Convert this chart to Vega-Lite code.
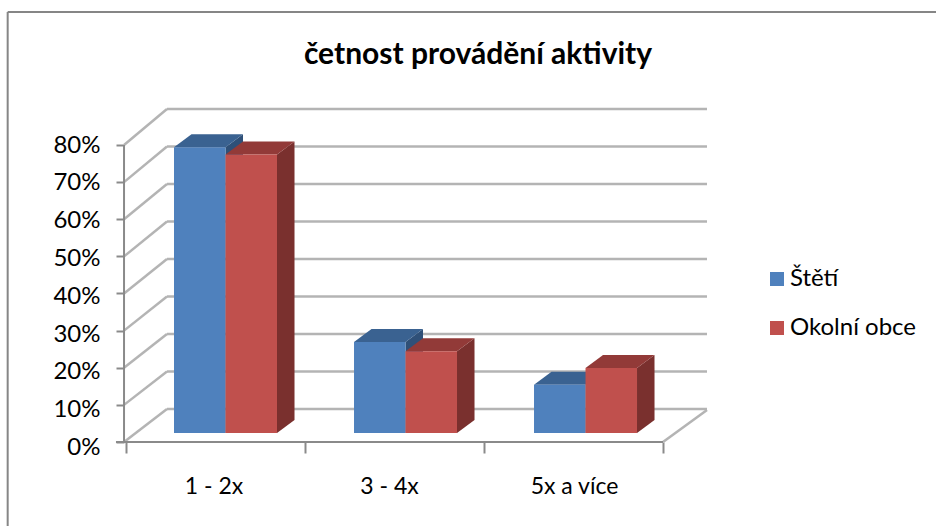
{
"$schema":"https://vega.github.io/schema/vega-lite/v6.json",
"width":936,"height":526,"autosize":{"type":"none"},"padding":0,"background":"white",
"config":{"view":{"stroke":null},"font":"Lato"},
"title":{"text":"četnost provádění aktivity","font":"Lato","fontSize":30,"fontWeight":"bold","color":"#000000","anchor":"middle","dx":10,"orient":"top","offset":-94,"baseline":"alphabetic"},
"resolve":{"axis":{"x":"independent","y":"independent"}},
"datasets":{
"levels":[{"pct":0},{"pct":10},{"pct":20},{"pct":30},{"pct":40},{"pct":50},{"pct":60},{"pct":70},{"pct":80}],
"bars":[
{"cat":"1 - 2x","series":"Štětí","value":77},
{"cat":"1 - 2x","series":"Okolní obce","value":75},
{"cat":"3 - 4x","series":"Štětí","value":24.5},
{"cat":"3 - 4x","series":"Okolní obce","value":22},
{"cat":"5x a více","series":"Štětí","value":13},
{"cat":"5x a více","series":"Okolní obce","value":17.5}
]},
"layer":[
{"data":{"name":"levels"},
 "transform":[{"calculate":"8.889+1.0101*datum.pct","as":"yb"}],
 "mark":{"type":"rule","stroke":"#b4b4b4","strokeWidth":2.5},
  "encoding":{
   "x":{"datum":0.229,"type":"quantitative","scale":{"domain":[-0.7039,4.5251],"nice":false,"zero":false},
    "axis":{"title":null,"orient":"bottom","offset":-84,"domain":false,"grid":false,"values":[0,0.489,1,1.469,2,2.503,3],
     "tickColor":"#8a8a8a","tickWidth":2,"tickSize":11,"tickOpacity":{"expr":"datum.value%1==0?1:0"},
     "labelExpr":"datum.value==0.489?'1 - 2x':datum.value==1.469?'3 - 4x':datum.value==2.503?'5x a více':''",
     "labelFont":"Lato","labelFontSize":23,"labelColor":"#000000","labelPadding":22,"labelOverlap":false,"labelFlush":false}},
   "x2":{"datum":3.2458},
   "y":{"field":"yb","type":"quantitative","scale":{"domain":[-22.63,119.06],"nice":false,"zero":false},
    "axis":{"title":null,"orient":"left","offset":-124,"domain":false,"grid":false,"values":[0,10,20,30,40,50,60,70,80],
     "tickColor":"#8a8a8a","tickWidth":2,"tickSize":8,"labelOffset":{"expr":"(80-datum.value)*0.07"},
     "labelExpr":"datum.value+'%'","labelFont":"Lato","labelFontSize":24,"labelColor":"#000000","labelPadding":16,"labelOverlap":false,"labelFlush":false}}
  }},
{"data":{"name":"levels"},
 "transform":[{"calculate":"8.889+1.0101*datum.pct","as":"yb"}],
 "mark":{"type":"rule","stroke":"#b4b4b4","strokeWidth":2.5},
  "encoding":{
   "x":{"datum":-0.011,"type":"quantitative","scale":{"domain":[-0.7039,4.5251],"nice":false,"zero":false},"axis":null},
   "x2":{"datum":0.229},
   "y":{"field":"pct","type":"quantitative","scale":{"domain":[-22.63,119.06],"nice":false,"zero":false},"axis":null},
   "y2":{"field":"yb"}
  }},
{"data":{"name":"levels"},"transform":[{"filter":"datum.pct==0"}],
 "mark":{"type":"rule","stroke":"#b4b4b4","strokeWidth":2.5},
 "encoding":{
  "x":{"datum":3,"type":"quantitative","scale":{"domain":[-0.7039,4.5251],"nice":false,"zero":false},"axis":null},
  "x2":{"datum":3.2458},
  "y":{"datum":0,"type":"quantitative","scale":{"domain":[-22.63,119.06],"nice":false,"zero":false},"axis":null},
  "y2":{"datum":8.62}
 }},
{"data":{"name":"levels"},"transform":[{"filter":"datum.pct==0"}],
 "mark":{"type":"rule","stroke":"#8a8a8a","strokeWidth":2},
 "encoding":{
  "x":{"datum":-0.056,"type":"quantitative","scale":{"domain":[-0.7039,4.5251],"nice":false,"zero":false},"axis":null},
  "x2":{"datum":3},
  "y":{"datum":0,"type":"quantitative","scale":{"domain":[-22.63,119.06],"nice":false,"zero":false},"axis":null}
 }},
{"data":{"name":"levels"},"transform":[{"filter":"datum.pct==0"}],
 "mark":{"type":"rule","stroke":"#8a8a8a","strokeWidth":2},
 "encoding":{
  "x":{"datum":-0.011,"type":"quantitative","scale":{"domain":[-0.7039,4.5251],"nice":false,"zero":false},"axis":null},
  "y":{"datum":0,"type":"quantitative","scale":{"domain":[-22.63,119.06],"nice":false,"zero":false},"axis":null},
  "y2":{"datum":80}
 }},
{"data":{"name":"levels"},"transform":[{"filter":"datum.pct==0"}],
 "mark":{"type":"rule","stroke":"#868686","strokeWidth":2},
 "encoding":{
  "x":{"datum":-0.661,"type":"quantitative","scale":{"domain":[-0.7039,4.5251],"nice":false,"zero":false},"axis":null},
  "x2":{"datum":4.5251},
  "y":{"datum":115.82,"type":"quantitative","scale":{"domain":[-22.63,119.06],"nice":false,"zero":false},"axis":null}
 }},
{"data":{"name":"levels"},"transform":[{"filter":"datum.pct==0"}],
 "mark":{"type":"rule","stroke":"#868686","strokeWidth":2},
 "encoding":{
  "x":{"datum":-0.661,"type":"quantitative","scale":{"domain":[-0.7039,4.5251],"nice":false,"zero":false},"axis":null},
  "y":{"datum":115.82,"type":"quantitative","scale":{"domain":[-22.63,119.06],"nice":false,"zero":false},"axis":null},
  "y2":{"datum":-22.63}
 }},
{"data":{"name":"bars"},
 "transform":[
  {"calculate":"0.5559+indexof(['1 - 2x','3 - 4x','5x a více'],datum.cat)*1.0056","as":"center"},
  {"calculate":"datum.series=='Štětí'?datum.center-0.2877:datum.center","as":"xl"},
  {"calculate":"datum.xl+0.2877","as":"xr"},
  {"calculate":"datum.value+2.424","as":"top"},
  {"calculate":"[0,1]","as":"s"},
  {"calculate":"[0,1,2,3]","as":"t"}
 ],
 "layer":[
 {"transform":[{"filter":"datum.series=='Štětí'"},{"flatten":["s"]},
   {"calculate":"datum.xr+datum.s*0.0978","as":"px"},{"calculate":"datum.top+datum.s*3.5","as":"py"},{"calculate":"2.424+datum.s*3.5","as":"py2"}],
  "mark":{"type":"area","orient":"vertical","color":"#2f5078"},
  "encoding":{"x":{"field":"px","type":"quantitative","scale":{"domain":[-0.7039,4.5251],"nice":false,"zero":false},"axis":null},
   "y":{"field":"py","type":"quantitative","scale":{"domain":[-22.63,119.06],"nice":false,"zero":false},"axis":null},"y2":{"field":"py2"},"detail":{"field":"cat"}}},
 {"transform":[{"filter":"datum.series=='Štětí'"},{"flatten":["t"]},
   {"calculate":"[datum.xl,datum.xl+0.0978,datum.xr,datum.xr+0.0978][datum.t]","as":"px"},
   {"calculate":"datum.top+[0,0,0,3.5][datum.t]","as":"py"},{"calculate":"datum.top+[0,3.5,3.5,3.5][datum.t]","as":"py2"}],
  "mark":{"type":"area","orient":"vertical","color":"#3a6291"},
  "encoding":{"x":{"field":"px","type":"quantitative","scale":{"domain":[-0.7039,4.5251],"nice":false,"zero":false},"axis":null},
   "y":{"field":"py","type":"quantitative","scale":{"domain":[-22.63,119.06],"nice":false,"zero":false},"axis":null},"y2":{"field":"py2"},"detail":{"field":"cat"}}},
 {"transform":[{"filter":"datum.series=='Štětí'"},{"calculate":"2.424","as":"base"}],
  "mark":{"type":"rect"},
  "encoding":{"x":{"field":"xl","type":"quantitative","scale":{"domain":[-0.7039,4.5251],"nice":false,"zero":false},"axis":null},"x2":{"field":"xr"},
   "y":{"field":"top","type":"quantitative","scale":{"domain":[-22.63,119.06],"nice":false,"zero":false},"axis":null},"y2":{"field":"base"},
   "color":{"field":"series","type":"nominal","scale":{"domain":["Štětí","Okolní obce"],"range":["#4f81bd","#c0504d"]},
    "legend":{"title":null,"orient":"none","legendX":765,"legendY":267,"symbolType":"square","symbolSize":196,"symbolStrokeWidth":0,"symbolOpacity":1,"labelFont":"Lato","labelFontSize":24,"labelColor":"#000000","labelOffset":1,"rowPadding":25,"padding":0}}}},
 {"transform":[{"filter":"datum.series!='Štětí'"},{"flatten":["s"]},
   {"calculate":"datum.xr+datum.s*0.0978","as":"px"},{"calculate":"datum.top+datum.s*3.5","as":"py"},{"calculate":"2.424+datum.s*3.5","as":"py2"}],
  "mark":{"type":"area","orient":"vertical","color":"#7a302e"},
  "encoding":{"x":{"field":"px","type":"quantitative","scale":{"domain":[-0.7039,4.5251],"nice":false,"zero":false},"axis":null},
   "y":{"field":"py","type":"quantitative","scale":{"domain":[-22.63,119.06],"nice":false,"zero":false},"axis":null},"y2":{"field":"py2"},"detail":{"field":"cat"}}},
 {"transform":[{"filter":"datum.series!='Štětí'"},{"flatten":["t"]},
   {"calculate":"[datum.xl,datum.xl+0.0978,datum.xr,datum.xr+0.0978][datum.t]","as":"px"},
   {"calculate":"datum.top+[0,0,0,3.5][datum.t]","as":"py"},{"calculate":"datum.top+[0,3.5,3.5,3.5][datum.t]","as":"py2"}],
  "mark":{"type":"area","orient":"vertical","color":"#923a38"},
  "encoding":{"x":{"field":"px","type":"quantitative","scale":{"domain":[-0.7039,4.5251],"nice":false,"zero":false},"axis":null},
   "y":{"field":"py","type":"quantitative","scale":{"domain":[-22.63,119.06],"nice":false,"zero":false},"axis":null},"y2":{"field":"py2"},"detail":{"field":"cat"}}},
 {"transform":[{"filter":"datum.series!='Štětí'"},{"calculate":"2.424","as":"base"}],
  "mark":{"type":"rect"},
  "encoding":{"x":{"field":"xl","type":"quantitative","scale":{"domain":[-0.7039,4.5251],"nice":false,"zero":false},"axis":null},"x2":{"field":"xr"},
   "y":{"field":"top","type":"quantitative","scale":{"domain":[-22.63,119.06],"nice":false,"zero":false},"axis":null},"y2":{"field":"base"},
   "color":{"field":"series","type":"nominal","scale":{"domain":["Štětí","Okolní obce"],"range":["#4f81bd","#c0504d"]},
    "legend":{"title":null,"orient":"none","legendX":765,"legendY":267,"symbolType":"square","symbolSize":196,"symbolStrokeWidth":0,"symbolOpacity":1,"labelFont":"Lato","labelFontSize":24,"labelColor":"#000000","labelOffset":1,"rowPadding":25,"padding":0}}}}
 ]}
]
}
